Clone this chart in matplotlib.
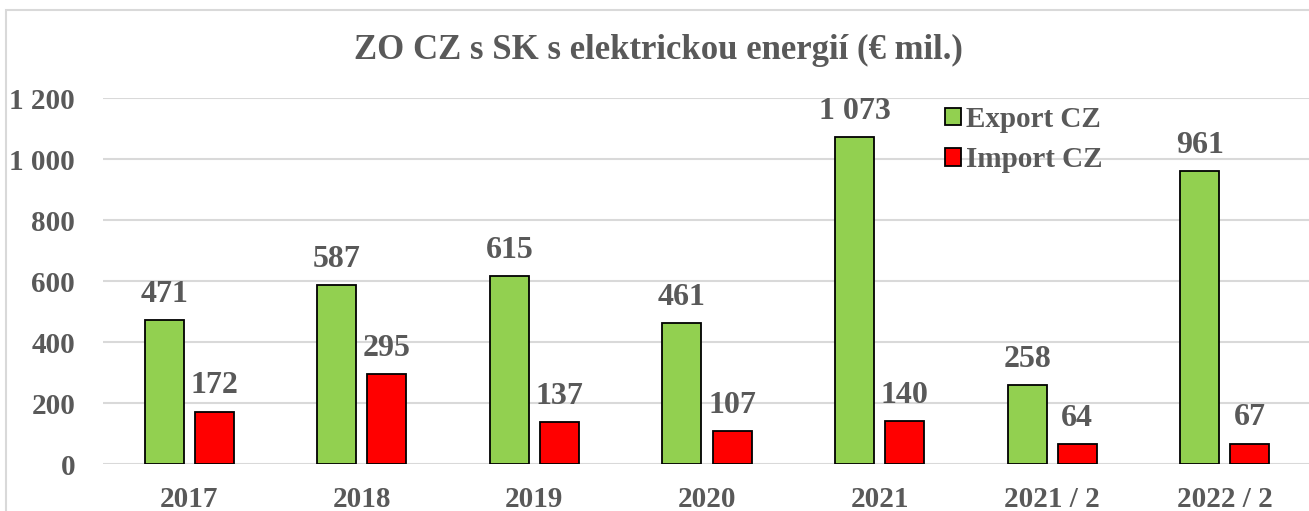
import matplotlib.pyplot as plt
import numpy as np
from matplotlib.patches import Rectangle

# data
categories = ["2017", "2018", "2019", "2020", "2021", "2021 / 2", "2022 / 2"]
export_cz = [471, 587, 615, 461, 1073, 258, 961]
import_cz = [172, 295, 137, 107, 140, 64, 67]
y_ticks = [0, 200, 400, 600, 800, 1000, 1200]

plt.rcParams['font.family'] = ['Liberation Serif', 'DejaVu Serif']
plt.rcParams['font.weight'] = 'bold'
txt_color = '#595959'
grid_color = '#d9d9d9'


def fmt(v):
    return f"{v:,.0f}".replace(",", " ")


fig = plt.figure(figsize=(13.09, 5.11), dpi=100)
ax = fig.add_axes([103 / 1309, 47 / 511, 1208 / 1309, 366 / 511])

# outer chart border (cropped on the right and bottom)
fig.patches.append(Rectangle((6 / 1309, -0.2), 1.1, 1.2 - 10 / 511,
                             transform=fig.transFigure, fill=False,
                             edgecolor=grid_color, linewidth=1.5))

x = np.arange(len(categories))
w = 0.226
off = 0.145
b1 = ax.bar(x - off, export_cz, w, color='#92d050', edgecolor='black', linewidth=1.3,
            label='Export CZ', zorder=3)
b2 = ax.bar(x + off, import_cz, w, color='#ff0000', edgecolor='black', linewidth=1.3,
            label='Import CZ', zorder=3)

for bars in (b1, b2):
    ax.bar_label(bars, labels=[fmt(b.get_height()) for b in bars], padding=8,
                 fontsize=23, fontweight='bold', color=txt_color)

ax.set_xlim(-0.5, 6.5)
ax.set_ylim(0, 1200)
ax.set_yticks(y_ticks)
ax.set_yticklabels([fmt(t) for t in y_ticks])
ax.set_xticks(x)
ax.set_xticklabels(categories)
ax.tick_params(axis='both', length=0, labelsize=21, labelcolor=txt_color)
ax.tick_params(axis='y', pad=20)
ax.tick_params(axis='x', pad=16)
for lbl in ax.get_xticklabels() + ax.get_yticklabels():
    lbl.set_fontweight('bold')

ax.grid(axis='y', color=grid_color, linewidth=1.5, zorder=0)
for s in ax.spines.values():
    s.set_visible(False)
ax.set_axisbelow(True)

fig.text(658 / 1309, 1 - 50 / 511, "ZO CZ s SK s elektrickou energií (€ mil.)",
         ha='center', va='center', fontsize=25, fontweight='bold', color=txt_color)

leg = ax.legend(loc='upper left', bbox_to_anchor=(827 / 1208, 1.018), frameon=False,
                fontsize=21, handlelength=0.55, handleheight=0.55, handletextpad=0.2,
                labelspacing=0.45, borderaxespad=0.1)
for t in leg.get_texts():
    t.set_color(txt_color)
    t.set_fontweight('bold')

fig.savefig("out.png", dpi=100)
